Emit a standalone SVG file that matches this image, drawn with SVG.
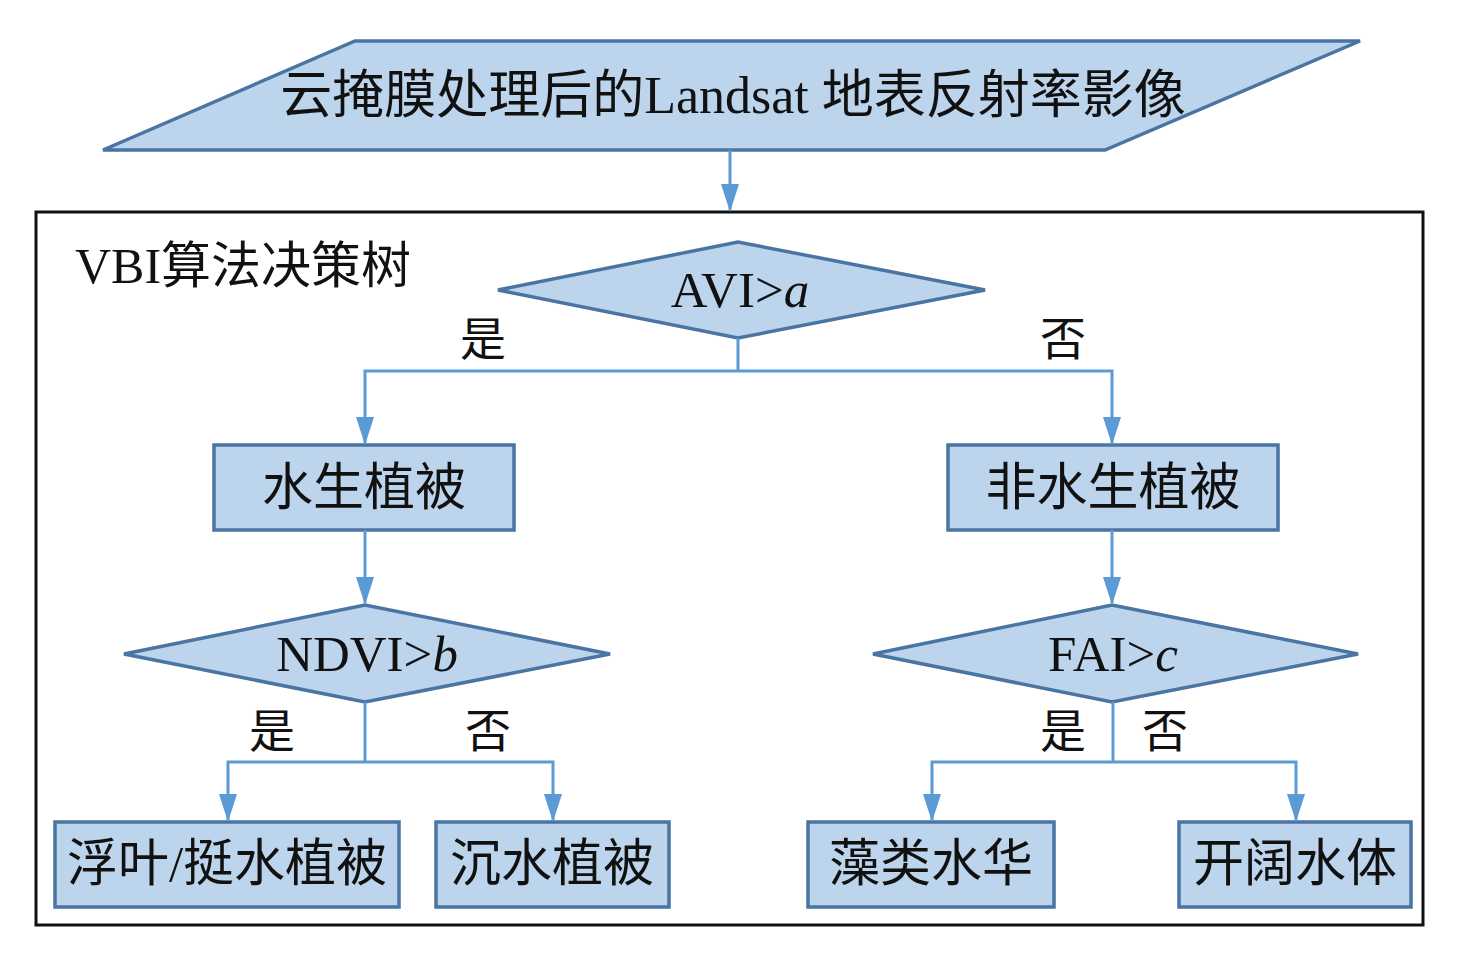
<svg xmlns="http://www.w3.org/2000/svg" width="1463" height="956" viewBox="0 0 1463 956">
<defs>
<marker id="arr" markerUnits="userSpaceOnUse" markerWidth="28" markerHeight="20" refX="26" refY="9" orient="auto" viewBox="0 0 28 18">
<path d="M0,0 L28,9 L0,18 Z" fill="#5b9bd5"/>
</marker>
<style>
.shape{fill:#bcd4ec;stroke:#4a74a2;stroke-width:3.5}
.conn{fill:none;stroke:#5b9bd5;stroke-width:3}
.t{font-family:"Liberation Serif","Noto Sans CJK SC",serif;font-size:51px;fill:#111;text-anchor:middle}
.lbl{font-family:"Liberation Serif","Noto Sans CJK SC",serif;font-size:46px;fill:#111;text-anchor:middle}
</style>
</defs>
<rect width="1463" height="956" fill="#fff"/>
<g id="input">
<polygon class="shape" points="355,41 1360,41 1105,150 103,150"/>
<text class="t" x="733" y="113" style="font-size:52px">云掩膜处理后的Landsat 地表反射率影像</text>
</g>
<g id="frame">
<rect x="36" y="212" width="1387" height="713" fill="none" stroke="#111" stroke-width="3"/>
<text class="t" x="75" y="283" style="text-anchor:start;font-size:50px">VBI算法决策树</text>
</g>
<g id="d_avi">
<polygon class="shape" points="498,290 738,242 985,290 738,338"/>
<text class="t" x="740" y="307">AVI&gt;<tspan font-style="italic">a</tspan></text>
</g>
<g id="n_aquatic">
<rect class="shape" x="214" y="445" width="300" height="85"/>
<text class="t" x="364" y="505">水生植被</text>
</g>
<g id="n_nonaquatic">
<rect class="shape" x="948" y="445" width="330" height="85"/>
<text class="t" x="1113" y="505">非水生植被</text>
</g>
<g id="d_ndvi">
<polygon class="shape" points="124,654 365,605 610,654 365,702"/>
<text class="t" x="367" y="671">NDVI&gt;<tspan font-style="italic">b</tspan></text>
</g>
<g id="d_fai">
<polygon class="shape" points="873,654 1112,605 1358,654 1112,702"/>
<text class="t" x="1113" y="671">FAI&gt;<tspan font-style="italic">c</tspan></text>
</g>
<g id="n_floating">
<rect class="shape" x="55" y="822" width="344" height="85"/>
<text class="t" x="227" y="881">浮叶/挺水植被</text>
</g>
<g id="n_submerged">
<rect class="shape" x="436" y="822" width="233" height="85"/>
<text class="t" x="552" y="881">沉水植被</text>
</g>
<g id="n_algae">
<rect class="shape" x="808" y="822" width="246" height="85"/>
<text class="t" x="931" y="881">藻类水华</text>
</g>
<g id="n_water">
<rect class="shape" x="1179" y="822" width="232" height="85"/>
<text class="t" x="1295" y="881">开阔水体</text>
</g>
<g id="connectors">
<path class="conn" d="M730,150 V210" marker-end="url(#arr)"/>
<path class="conn" d="M738,338 V371"/>
<path class="conn" d="M738,371 H365 V443" marker-end="url(#arr)"/>
<path class="conn" d="M738,371 H1112 V443" marker-end="url(#arr)"/>
<path class="conn" d="M365,530 V603" marker-end="url(#arr)"/>
<path class="conn" d="M1112,530 V603" marker-end="url(#arr)"/>
<path class="conn" d="M365,702 V762"/>
<path class="conn" d="M365,762 H228 V820" marker-end="url(#arr)"/>
<path class="conn" d="M365,762 H553 V820" marker-end="url(#arr)"/>
<path class="conn" d="M1113,702 V762"/>
<path class="conn" d="M1113,762 H932 V820" marker-end="url(#arr)"/>
<path class="conn" d="M1113,762 H1296 V820" marker-end="url(#arr)"/>
</g>
<g id="labels">
<text class="lbl" x="483" y="355">是</text>
<text class="lbl" x="1063" y="355">否</text>
<text class="lbl" x="272" y="747">是</text>
<text class="lbl" x="488" y="747">否</text>
<text class="lbl" x="1063" y="747">是</text>
<text class="lbl" x="1165" y="747">否</text>
</g>
</svg>
